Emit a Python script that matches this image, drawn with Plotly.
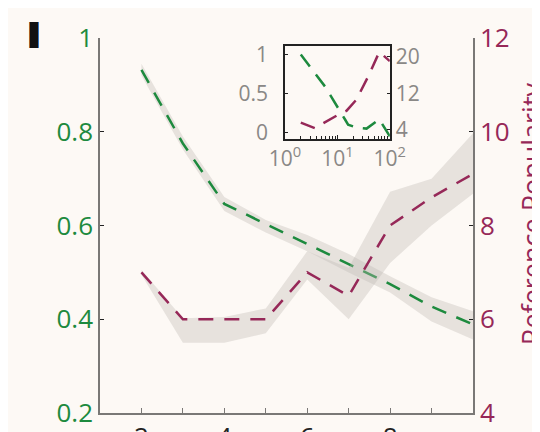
import plotly.graph_objects as go

# ---------------- data ----------------
x_main = [2, 3, 4, 5, 6, 7, 8, 9, 10]
green_mid = [0.932, 0.775, 0.646, 0.603, 0.560, 0.518, 0.475, 0.427, 0.389]
green_lo = [0.920, 0.762, 0.631, 0.585, 0.545, 0.500, 0.457, 0.395, 0.357]
green_hi = [0.945, 0.790, 0.661, 0.612, 0.580, 0.539, 0.492, 0.447, 0.417]

crim_mid = [7.0, 6.0, 6.0, 6.0, 7.0, 6.5, 8.0, 8.6, 9.1]
crim_lo = [6.95, 5.5, 5.5, 5.7, 6.85, 6.0, 7.2, 8.0, 8.68]
crim_hi = [7.05, 6.02, 6.05, 6.23, 7.45, 7.1, 8.72, 9.0, 9.97]

inset_green_x = [2, 5.8, 13.9, 16, 24, 36, 63, 100]
inset_green_y = [1.0, 0.59, 0.17, 0.10, 0.06, 0.05, 0.17, -0.05]
inset_crim_x = [2, 3.7, 9.6, 15, 23, 40, 63, 100]
inset_crim_y = [5.6, 4.4, 7.1, 8.2, 10.6, 16.0, 21.0, 19.0]

x_tickvals = [2, 4, 6, 8]
x_minor_tickvals = [3, 5, 7, 9]
yl_tickvals = [0.2, 0.4, 0.6, 0.8, 1.0]
yl_ticktext = ["0.2", "0.4", "0.6", "0.8", "1"]
yr_tickvals = [4, 6, 8, 10, 12]
inset_x_tickvals = [1, 10, 100]
inset_x_ticktext = ["10<sup>0</sup>", "10<sup>1</sup>", "10<sup>2</sup>"]
inset_x_minor = [2, 3, 4, 5, 6, 7, 8, 9, 20, 30, 40, 50, 60, 70, 80, 90]
inset_yl_tickvals = [0, 0.5, 1]
inset_yl_ticktext = ["0", "0.5", "1"]
inset_yr_tickvals = [4, 12, 20]

# ---------------- style ----------------
BG = "#fdf9f5"
GREEN = "#1d8a3e"
CRIM = "#962858"
GRAY_TXT = "#8a8886"
AXIS = "#7a7876"
BAND = "rgba(190,185,180,0.36)"
FONT = "Open Sans"

fig = go.Figure()

# bands
fig.add_trace(go.Scatter(
    x=x_main + x_main[::-1], y=green_hi + green_lo[::-1],
    fill="toself", fillcolor=BAND, line=dict(width=0), mode="lines",
    hoverinfo="skip", showlegend=False, xaxis="x", yaxis="y"))
fig.add_trace(go.Scatter(
    x=x_main + x_main[::-1], y=crim_hi + crim_lo[::-1],
    fill="toself", fillcolor=BAND, line=dict(width=0), mode="lines",
    hoverinfo="skip", showlegend=False, xaxis="x", yaxis="y2"))

# main lines
fig.add_trace(go.Scatter(
    x=x_main, y=green_mid, mode="lines",
    line=dict(color=GREEN, width=2.5, dash="15px,11px"),
    showlegend=False, xaxis="x", yaxis="y"))
fig.add_trace(go.Scatter(
    x=x_main, y=crim_mid, mode="lines",
    line=dict(color=CRIM, width=2.5, dash="15px,11px"),
    showlegend=False, xaxis="x", yaxis="y2"))

# inset lines
fig.add_trace(go.Scatter(
    x=inset_green_x, y=inset_green_y, mode="lines",
    line=dict(color=GREEN, width=2.5, dash="15px,10px"),
    showlegend=False, xaxis="x2", yaxis="y3"))
fig.add_trace(go.Scatter(
    x=inset_crim_x, y=inset_crim_y, mode="lines",
    line=dict(color=CRIM, width=2.5, dash="15px,10px"),
    showlegend=False, xaxis="x2", yaxis="y4"))

# page body has an 8px margin -> compensate so the plot area lands at
# x 100..473, y 38..413 in the window
fig.update_layout(
    width=540, height=432,
    paper_bgcolor=BG, plot_bgcolor=BG,
    margin=dict(l=92, r=75, t=30, b=27, pad=0),
    font=dict(family=FONT),
    showlegend=False,
    xaxis=dict(
        domain=[0, 1], range=[1, 10], anchor="y",
        showline=True, linecolor=AXIS, linewidth=1.5,
        ticks="inside", ticklen=5, tickcolor=AXIS, tickwidth=1.2,
        tickvals=x_tickvals,
        minor=dict(tickvals=x_minor_tickvals, ticks="inside", ticklen=5,
                   tickcolor=AXIS, tickwidth=1.2, showgrid=False),
        tickfont=dict(size=26, color="#222222", family=FONT),
        showgrid=False, zeroline=False, automargin=False),
    yaxis=dict(
        domain=[0, 1], range=[0.2, 1.0], anchor="x",
        showline=True, linecolor=AXIS, linewidth=1.5,
        ticks="inside", ticklen=4, tickcolor="#222222", tickwidth=1.2,
        tickvals=yl_tickvals, ticktext=yl_ticktext,
        tickfont=dict(size=26, color=GREEN, family=FONT),
        showgrid=False, zeroline=False, automargin=False),
    yaxis2=dict(
        overlaying="y", side="right", anchor="x", range=[4, 12],
        showline=True, linecolor=AXIS, linewidth=1.5,
        ticks="inside", ticklen=4, tickcolor="#222222", tickwidth=1.2,
        tickvals=yr_tickvals,
        tickfont=dict(size=26, color=CRIM, family=FONT),
        showgrid=False, zeroline=False, automargin=False),
    xaxis2=dict(
        type="log", domain=[0.496, 0.777], range=[0, 2], anchor="y3",
        showline=True, mirror=True, linecolor="#222222", linewidth=1.5,
        ticks="inside", ticklen=4, tickcolor="#222222",
        tickvals=inset_x_tickvals, ticktext=inset_x_ticktext,
        tickfont=dict(size=21, color=GRAY_TXT, family=FONT),
        minor=dict(tickvals=inset_x_minor, ticks="inside", ticklen=3,
                   tickcolor="#222222", showgrid=False),
        showgrid=False, zeroline=False, automargin=False),
    yaxis3=dict(
        domain=[0.7307, 0.9787], range=[-0.083, 1.109], anchor="x2",
        showline=True, mirror=True, linecolor="#222222", linewidth=1.5,
        ticks="inside", ticklen=3, tickcolor="#222222",
        tickvals=inset_yl_tickvals, ticktext=inset_yl_ticktext,
        ticklabelstandoff=11,
        tickfont=dict(size=21, color=GRAY_TXT, family=FONT),
        showgrid=False, zeroline=False, automargin=False),
    yaxis4=dict(
        overlaying="y3", side="right", anchor="x2", range=[2.03, 22.3],
        showline=True, linecolor="#222222", linewidth=1.5,
        ticks="inside", ticklen=3, tickcolor="#222222",
        tickvals=inset_yr_tickvals,
        tickfont=dict(size=21, color=GRAY_TXT, family=FONT),
        showgrid=False, zeroline=False, automargin=False),
    annotations=[
        dict(text="Reference Popularity", textangle=-90,
             xref="paper", yref="paper", x=1.1555, y=0.53,
             xanchor="center", yanchor="middle", showarrow=False,
             font=dict(size=27, color=CRIM, family=FONT)),
        dict(text="I", xref="paper", yref="paper",
             x=(32 - 100) / 373, y=(413 - 36) / 375,
             xanchor="center", yanchor="middle", showarrow=False,
             font=dict(size=36, color="#111111", family="Roboto", weight=900,
                       shadow="3px 0px 0px #111111")),
    ],
)

fig.write_html("out.html")
